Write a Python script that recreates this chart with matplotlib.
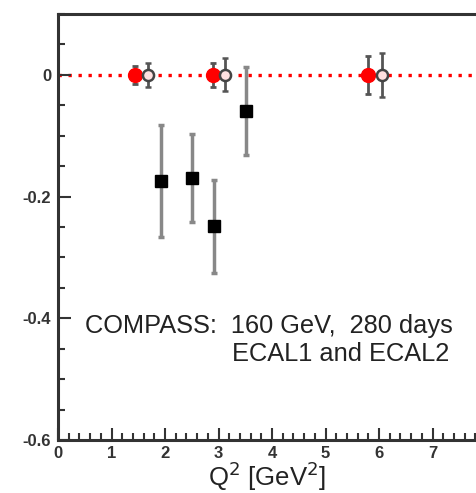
import matplotlib
matplotlib.use("Agg")
import matplotlib.pyplot as plt
from matplotlib.ticker import MultipleLocator

# Data
red_x = [1.44, 2.90, 5.80]
red_y = [0.0, 0.0, 0.0]
red_err = [0.015, 0.02, 0.031]

open_x = [1.69, 3.12, 6.05]
open_y = [0.0, 0.0, 0.0]
open_err = [0.02, 0.027, 0.036]

sq_x = [1.92, 2.51, 2.92, 3.51]
sq_y = [-0.174, -0.169, -0.249, -0.059]
sq_err = [0.092, 0.072, 0.077, 0.072]

xticks = [0, 1, 2, 3, 4, 5, 6, 7]
yticks = [-0.6, -0.4, -0.2, 0]
ytick_labels = ["-0.6", "-0.4", "-0.2", "0"]

plt.rcParams['font.family'] = ['Liberation Sans', 'DejaVu Sans']

fig = plt.figure(figsize=(4.77, 4.93), dpi=100)
ax = fig.add_axes([58/477, 53/493, (477-58)/477, (440-14)/493])
ax.set_xlim(0, (477-58)/53.5)
ax.set_ylim(-0.6, 0.1)

ax.axhline(0, color='red', ls=(0, (1, 2)), lw=2.4, zorder=1)
ax.axhline(-0.6, color='#cc3333', ls='-', lw=2.0, zorder=1, clip_on=False)

ax.errorbar(sq_x, sq_y, yerr=sq_err, fmt='s', color='black', ms=8,
            ecolor='#888888', elinewidth=2.5, capsize=2.5, capthick=2.5, zorder=3)
ax.errorbar(red_x, red_y, yerr=red_err, fmt='o', color='red', ms=10,
            ecolor='#555555', elinewidth=2, capsize=2.5, capthick=2, zorder=4)
ax.errorbar(open_x, open_y, yerr=open_err, fmt='o', mfc='#ffe0e0', mec='#444444',
            mew=1.8, ms=8, ecolor='#555555', elinewidth=2, capsize=2.5, capthick=2, zorder=4)

ax.text(0.5, -0.413, "COMPASS:  160 GeV,  280 days", fontsize=18.3, va='center', ha='left', color='#222222')
ax.text(7.31, -0.459, "ECAL1 and ECAL2", fontsize=18.3, va='center', ha='right', color='#222222')

ax.set_xticks(xticks)
ax.set_xticklabels([str(t) for t in xticks])
ax.set_yticks(yticks)
ax.set_yticklabels(ytick_labels)
ax.xaxis.set_minor_locator(MultipleLocator(0.2))
ax.yaxis.set_minor_locator(MultipleLocator(0.05))
ax.tick_params(which='both', direction='in', color='#333333', width=1.5,
               top=False, right=False, labelsize=12)
ax.tick_params(which='major', length=9)
ax.tick_params(which='minor', length=5)
ax.tick_params(axis='x', pad=4)
ax.tick_params(axis='y', pad=5)
for lab in ax.get_xticklabels() + ax.get_yticklabels():
    lab.set_fontweight('bold')
    lab.set_color('#333333')

for s in ['left', 'top', 'bottom']:
    ax.spines[s].set_linewidth(2.2)
    ax.spines[s].set_color('#333333')
ax.spines['right'].set_visible(False)

ax.set_xlabel(r"Q$^{2}$ [GeV$^{2}$]", fontsize=18.5, labelpad=-1, color='#222222')

fig.savefig("out.png", dpi=100)
